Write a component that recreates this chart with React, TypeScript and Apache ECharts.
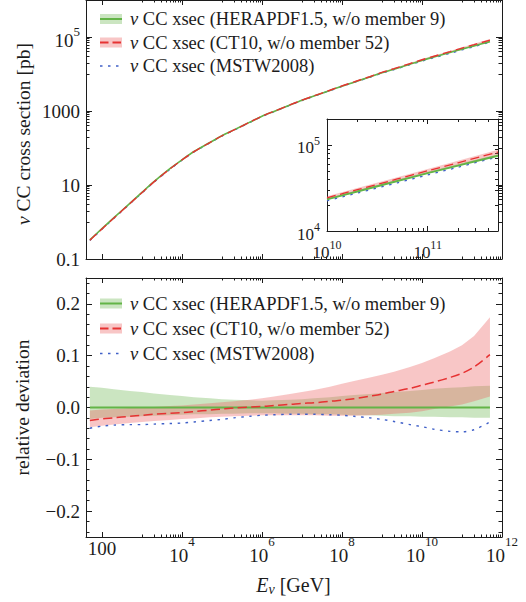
import React, { useEffect, useRef } from 'react';
import * as echarts from 'echarts';

// ---------- data ----------
const energies = [50, 100, 200, 500, 1e3, 2e3, 5e3, 1e4, 2e4, 5e4, 1e5, 2e5, 5e5, 1e6, 2e6, 5e6, 1e7, 2e7, 5e7, 1e8, 2e8, 5e8, 1e9, 2e9, 5e9, 1e10, 2e10, 5e10, 1e11, 2e11, 5e11];
// HERAPDF1.5 central nu CC cross section [pb]
const heraXsec = [0.33, 0.66, 1.31, 3.2, 6.3, 12.3, 27.5, 48, 80.5, 141, 215, 309, 500, 720, 975, 1450, 1950, 2540, 3600, 4700, 6000, 8350, 10800, 13500, 18450, 23300, 28800, 38000, 47000, 57500, 75000];
// relative deviations w.r.t. HERAPDF1.5 central
const heraBandUp = [0.040, 0.038, 0.035, 0.032, 0.030, 0.027, 0.024, 0.022, 0.020, 0.018, 0.016, 0.015, 0.014, 0.013, 0.014, 0.015, 0.016, 0.018, 0.020, 0.022, 0.024, 0.026, 0.028, 0.030, 0.032, 0.034, 0.036, 0.038, 0.039, 0.041, 0.042];
const heraBandDown = [-0.022, -0.020, -0.019, -0.018, -0.017, -0.016, -0.015, -0.014, -0.013, -0.013, -0.012, -0.012, -0.011, -0.011, -0.011, -0.012, -0.012, -0.013, -0.013, -0.014, -0.015, -0.015, -0.016, -0.017, -0.017, -0.018, -0.018, -0.019, -0.019, -0.020, -0.020];
const ct10Dev = [-0.025, -0.022, -0.020, -0.017, -0.015, -0.013, -0.011, -0.010, -0.008, -0.005, -0.003, -0.001, 0.001, 0.002, 0.004, 0.006, 0.008, 0.009, 0.012, 0.014, 0.017, 0.022, 0.026, 0.031, 0.037, 0.043, 0.049, 0.058, 0.066, 0.078, 0.102];
const ct10BandUp = [-0.006, -0.004, -0.003, -0.001, 0.000, 0.001, 0.003, 0.004, 0.006, 0.008, 0.010, 0.012, 0.015, 0.018, 0.021, 0.026, 0.030, 0.034, 0.040, 0.046, 0.051, 0.058, 0.063, 0.069, 0.078, 0.086, 0.095, 0.108, 0.120, 0.138, 0.174];
const ct10BandDown = [-0.038, -0.035, -0.033, -0.030, -0.028, -0.026, -0.024, -0.022, -0.021, -0.019, -0.018, -0.017, -0.016, -0.015, -0.015, -0.015, -0.015, -0.015, -0.016, -0.016, -0.016, -0.015, -0.014, -0.012, -0.010, -0.007, -0.003, 0.002, 0.006, 0.012, 0.021];
const mstwDev = [-0.040, -0.036, -0.034, -0.033, -0.033, -0.032, -0.031, -0.030, -0.028, -0.025, -0.023, -0.020, -0.017, -0.015, -0.014, -0.013, -0.013, -0.013, -0.014, -0.015, -0.017, -0.020, -0.023, -0.027, -0.033, -0.037, -0.042, -0.046, -0.047, -0.043, -0.028];

const legendLabels = ['CC xsec (HERAPDF1.5, w/o member 9)', 'CC xsec (CT10, w/o member 52)', 'CC xsec (MSTW2008)'];

// tick values
const mainXMajor = [100, 1e4, 1e6, 1e8, 1e10, 1e12];
const mainXMinorDecades = [1e3, 1e5, 1e7, 1e9, 1e11];
const xsecMajor = [0.1, 10, 1000, 1e5];
const xsecMinorDecades = [1, 100, 1e4];
const devMajor = [-0.2, -0.1, 0, 0.1, 0.2];
const insetXMajor = [1e10, 1e11];
const insetYMajor = [1e4, 1e5];

// ---------- style ----------
const FAMILY = "'Liberation Serif', 'Times New Roman', serif";
const FONT = FAMILY;
const INK = '#1c1c1c';
const GREEN = '#63b447';
const RED = '#e63232';
const BLUE = '#4060c8';
const GREEN_BAND = 'rgba(112,184,84,0.36)';
const RED_BAND = 'rgba(235,98,98,0.36)';
const RED_DASH = [9, 4.5];
const BLUE_DOT = [2.5, 5.5];

const lg = (v: number) => Math.log10(v);
const cssFont = (size: number, italic = false) => `${italic ? 'italic ' : ''}${size}px ${FAMILY}`;

function minorsFrom(decades: number[], ks: number[], maxLog: number) {
  const out: number[] = [];
  decades.forEach((d) => ks.forEach((k) => {
    const v = lg(k * d);
    if (v <= maxLog + 1e-9) out.push(v);
  }));
  return out;
}

function axisPair(grid: number, pos: string, min: number, max: number, majors: number[], minors: number[], majLen: number, minLen: number, label?: any) {
  const ls = { color: INK, width: 1 };
  const common = { type: 'value', gridIndex: grid, position: pos, min, max, splitLine: { show: false }, minorTick: { show: false }, minorSplitLine: { show: false }, axisPointer: { show: false }, silent: true };
  const major = {
    ...common,
    axisLine: { show: true, onZero: false, lineStyle: ls },
    axisTick: { show: true, inside: true, length: majLen, customValues: majors, lineStyle: ls },
    axisLabel: label ? { show: true, customValues: majors, color: INK, fontFamily: FONT, ...label } : { show: false },
  };
  const minor = {
    ...common,
    axisLine: { show: false, onZero: false },
    axisTick: { show: true, inside: true, length: minLen, customValues: minors, lineStyle: ls },
    axisLabel: { show: false },
  };
  return [major, minor];
}

const tok = (fontSize: number, extra: any = {}) => ({ fontFamily: FONT, fontSize, color: INK, ...extra });
const gtok = (size: number, italic = false, extra: any = {}) => ({ font: cssFont(size, italic), fontFamily: FAMILY, fontSize: size, fontStyle: italic ? 'italic' : 'normal', fill: INK, ...extra });

function buildOption() {
  const X = energies.map(lg);
  const mainXMin = lg(40);
  const mainXMinor = minorsFrom(mainXMinorDecades, [1, 2, 3, 4, 5, 6, 7, 8, 9], 12);
  const xsecMinor = minorsFrom(xsecMinorDecades, [1, 2, 3, 4, 5, 6, 7, 8, 9], 6);
  const devMinor: number[] = [];
  for (let i = -12; i <= 12; i++) if (i % 5 !== 0) devMinor.push(i * 0.02);
  const insXMax = lg(5e11);
  const insYMax = lg(2e5);
  const insXMinor = minorsFrom(insetXMajor, [2, 3, 4, 5, 6, 7, 8, 9], insXMax);
  const insYMinor = minorsFrom(insetYMajor, [2, 3, 4, 5, 6, 7, 8, 9], insYMax);

  const powLabel = (n: number) => `{b|10}{s|${n}}`;
  const fmtMainX = (v: number) => { const n = Math.round(v); return n === 2 ? '{p|100}' : powLabel(n); };
  const xsecPlain: Record<string, string> = { '-1': '0.1', '1': '10', '3': '1000' };
  const fmtXsec = (v: number) => { const n = Math.round(v); return xsecPlain[String(n)] ? `{p|${xsecPlain[String(n)]}}` : powLabel(n); };
  const fmtDev = (v: number) => (v < -1e-9 ? '\u2212' : '') + Math.abs(v).toFixed(1);
  const fmtInset = (v: number) => powLabel(Math.round(v));

  const xsecLabel = { margin: 6, formatter: fmtXsec, rich: { p: tok(19, { lineHeight: 22 }), b: tok(19, { lineHeight: 24, height: 18, verticalAlign: 'bottom' }), s: tok(13, { lineHeight: 13, height: 13, verticalAlign: 'top' }) } };
  const mainXLabel = { margin: 1, formatter: fmtMainX, rich: { p: tok(19, { lineHeight: 21 }), b: tok(19, { lineHeight: 34 }), s: tok(13, { lineHeight: 7, height: 7, verticalAlign: 'top' }) } };
  const devLabel = { margin: 6, formatter: fmtDev, fontSize: 19 };
  const insXLabel = { margin: 3, formatter: fmtInset, rich: { b: tok(17, { lineHeight: 37 }), s: tok(12, { lineHeight: 21, height: 21, verticalAlign: 'top' }) } };
  const insYLabel = { margin: 7, formatter: fmtInset, rich: { b: tok(17, { lineHeight: 22, height: 16, verticalAlign: 'bottom' }), s: tok(12, { lineHeight: 14, height: 14, verticalAlign: 'top' }) } };

  const xAxis = [
    ...axisPair(0, 'bottom', mainXMin, 12, mainXMajor.map(lg), mainXMinor, 5, 2.5),
    ...axisPair(0, 'top', mainXMin, 12, mainXMajor.map(lg), mainXMinor, 5, 2.5),
    ...axisPair(1, 'bottom', mainXMin, 12, mainXMajor.map(lg), mainXMinor, 5, 2.5, mainXLabel),
    ...axisPair(1, 'top', mainXMin, 12, mainXMajor.map(lg), mainXMinor, 5, 2.5),
    ...axisPair(2, 'bottom', 10, insXMax, insetXMajor.map(lg), insXMinor, 5, 3, insXLabel),
    ...axisPair(2, 'top', 10, insXMax, insetXMajor.map(lg), insXMinor, 5, 3),
  ];
  const yAxis = [
    ...axisPair(0, 'left', -1, 6, xsecMajor.map(lg), xsecMinor, 6, 3.5, xsecLabel),
    ...axisPair(0, 'right', -1, 6, xsecMajor.map(lg), xsecMinor, 6, 3.5),
    ...axisPair(1, 'left', -0.25, 0.25, devMajor, devMinor, 6, 3.5, devLabel),
    ...axisPair(1, 'right', -0.25, 0.25, devMajor, devMinor, 6, 3.5),
    ...axisPair(2, 'left', 4, insYMax, insetYMajor.map(lg), insYMinor, 5, 3, insYLabel),
    ...axisPair(2, 'right', 4, insYMax, insetYMajor.map(lg), insYMinor, 5, 3),
  ];

  const line = (grid: number, xs: number[], ys: number[], color: string, width: number, type: any, z: number) => ({
    type: 'line', xAxisIndex: grid * 4, yAxisIndex: grid * 4, data: xs.map((x, i) => [x, ys[i]]),
    showSymbol: false, symbol: 'none', smooth: 0.3, silent: true, z,
    lineStyle: { color, width, type, cap: 'butt' }, emphasis: { disabled: true },
  });
  const band = (grid: number, xs: number[], lo: number[], hi: number[], fill: string, z: number) => ({
    type: 'custom', xAxisIndex: grid * 4, yAxisIndex: grid * 4, silent: true, z,
    data: [[xs[0], lo[0]]],
    renderItem: (_p: any, api: any) => {
      const pts: number[][] = [];
      for (let i = 0; i < xs.length; i++) pts.push(api.coord([xs[i], hi[i]]));
      for (let i = xs.length - 1; i >= 0; i--) pts.push(api.coord([xs[i], lo[i]]));
      return { type: 'polygon', shape: { points: pts }, style: { fill } };
    },
  });

  // derived cross sections (deviation = sigma/sigma_HERA - 1)
  const ct10Xsec = heraXsec.map((s, i) => s * (1 + ct10Dev[i]));
  const mstwXsec = heraXsec.map((s, i) => s * (1 + mstwDev[i]));
  const logOf = (arr: number[]) => arr.map(lg);
  const hUp = heraXsec.map((s, i) => s * (1 + heraBandUp[i]));
  const hDn = heraXsec.map((s, i) => s * (1 + heraBandDown[i]));
  const cUp = heraXsec.map((s, i) => s * (1 + ct10BandUp[i]));
  const cDn = heraXsec.map((s, i) => s * (1 + ct10BandDown[i]));
  const zeros = energies.map(() => 0);

  const ins = energies.map((e, i) => (e >= 1e10 ? i : -1)).filter((i) => i >= 0);
  const pick = (arr: number[]) => ins.map((i) => arr[i]);
  const XI = pick(X);

  const series: any[] = [
    // main xsec panel
    band(0, X, logOf(hDn), logOf(hUp), GREEN_BAND, 1),
    band(0, X, logOf(cDn), logOf(cUp), RED_BAND, 2),
    line(0, X, logOf(mstwXsec), BLUE, 1.4, BLUE_DOT, 3),
    line(0, X, logOf(heraXsec), GREEN, 1.6, 'solid', 4),
    line(0, X, logOf(ct10Xsec), RED, 1.4, RED_DASH, 5),
    // deviation panel
    band(1, X, heraBandDown, heraBandUp, GREEN_BAND, 1),
    band(1, X, ct10BandDown, ct10BandUp, RED_BAND, 2),
    line(1, X, mstwDev, BLUE, 1.4, BLUE_DOT, 3),
    line(1, X, zeros, GREEN, 1.8, 'solid', 4),
    line(1, X, ct10Dev, RED, 1.5, RED_DASH, 5),
    // inset
    band(2, XI, pick(logOf(hDn)), pick(logOf(hUp)), GREEN_BAND, 1),
    band(2, XI, pick(logOf(cDn)), pick(logOf(cUp)), RED_BAND, 2),
    line(2, XI, pick(logOf(mstwXsec)), BLUE, 1.3, BLUE_DOT, 3),
    line(2, XI, pick(logOf(heraXsec)), GREEN, 2, 'solid', 4),
    line(2, XI, pick(logOf(ct10Xsec)), RED, 1.3, RED_DASH, 5),
  ];

  const legendStyles = [
    { color: GREEN, bandFill: GREEN_BAND, dash: null as any, width: 2 },
    { color: RED, bandFill: RED_BAND, dash: [8.5, 4], width: 1.8 },
    { color: BLUE, bandFill: null as any, dash: [2.5, 5.5], width: 1.6 },
  ];
  const legend = (ys: number[]) => {
    const els: any[] = [];
    legendLabels.forEach((lab, i) => {
      const cy = ys[i];
      const st = legendStyles[i];
      if (st.bandFill) els.push({ type: 'rect', shape: { x: 100, y: cy - 5, width: 22, height: 10 }, style: { fill: st.bandFill }, silent: true });
      els.push({ type: 'line', shape: { x1: 100, y1: cy, x2: 122, y2: cy }, style: { stroke: st.color, lineWidth: st.width, lineDash: st.dash || undefined }, silent: true });
      els.push({
        type: 'text', x: 130, y: cy, silent: true,
        style: {
          text: `{i|\u03bd} {n|${lab}}`, verticalAlign: 'middle', align: 'left', ...gtok(18.5),
          rich: { i: gtok(18.5, true), n: gtok(18.5) },
        },
      });
    });
    return els;
  };

  const graphic: any[] = [
    ...legend([19, 42.5, 66]),
    ...legend([303.5, 328.5, 353.5]),
    {
      type: 'text', x: 23, y: 134, rotation: Math.PI / 2, silent: true,
      style: {
        text: '{i|\u03bd} {n|CC cross section [pb]}', align: 'center', verticalAlign: 'middle', ...gtok(19.5),
        rich: { i: gtok(19.5, true), n: gtok(19.5) },
      },
    },
    {
      type: 'text', x: 22, y: 407.5, rotation: Math.PI / 2, silent: true,
      style: { text: 'relative deviation', align: 'center', verticalAlign: 'middle', ...gtok(19.5) },
    },
    {
      type: 'text', x: 293.5, y: 584.5, silent: true,
      style: {
        text: '{e|E}{s|\u03bd}{n| [GeV]}', align: 'center', verticalAlign: 'middle', ...gtok(20),
        rich: {
          e: gtok(20, true, { lineHeight: 24 }),
          s: gtok(14, true, { height: 15, lineHeight: 15, verticalAlign: 'bottom' }),
          n: gtok(20, false, { lineHeight: 24 }),
        },
      },
    },
  ];

  return {
    animation: false,
    backgroundColor: '#ffffff',
    textStyle: { fontFamily: FONT },
    grid: [
      { left: 86, top: 0, width: 416, height: 259, outerBoundsMode: 'none', containLabel: false },
      { left: 86, top: 278, width: 416, height: 259, outerBoundsMode: 'none', containLabel: false },
      { left: 327, top: 119, width: 171, height: 112, show: true, backgroundColor: '#ffffff', borderWidth: 0, outerBoundsMode: 'none', containLabel: false },
    ],
    xAxis,
    yAxis,
    series,
    graphic,
  };
}

export default function App() {
  const ref = useRef<HTMLDivElement>(null);
  useEffect(() => {
    const chart = echarts.init(ref.current as HTMLDivElement, null, { renderer: 'svg' });
    chart.setOption(buildOption() as any);
    return () => chart.dispose();
  }, []);
  return <div ref={ref} style={{ position: 'fixed', left: 0, top: 0, width: 526, height: 602, background: '#fff' }} />;
}
